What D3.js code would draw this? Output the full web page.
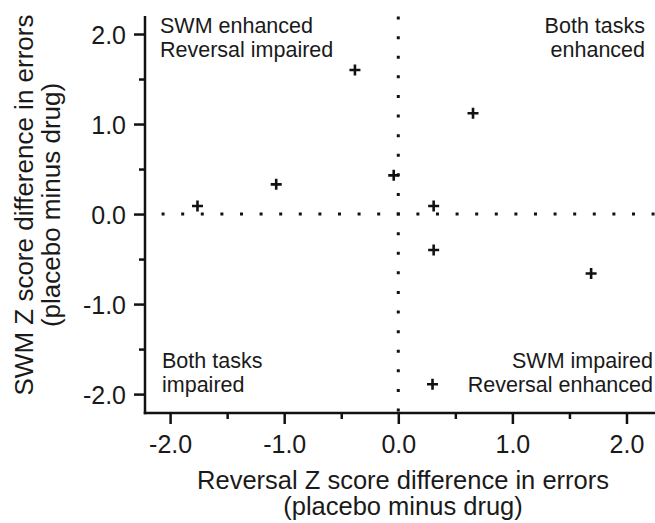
<!DOCTYPE html>
<html>
<head>
<meta charset="utf-8">
<script src="https://cdn.jsdelivr.net/npm/d3@7"></script>
<style>
  body { margin: 0; background: #fff; }
  text { font-family: "Liberation Sans", Arial, sans-serif; fill: #1a1a1a; }
</style>
</head>
<body>
<svg id="chart" width="655" height="523"></svg>
<script>
// reversal (x) and SWM (y) z score differences, one entry per subject
const reversalZ = [-1.76, -1.07, -0.38, -0.04, 0.31, 0.31, 0.30, 0.655, 1.69];
const swmZ      = [0.09, 0.33, 1.60, 0.43, 0.09, -0.40, -1.89, 1.12, -0.66];
const majorTicks = [-2, -1, 0, 1, 2];
const minorTicks = [-1.5, -0.5, 0.5, 1.5];
const quadrantLabels = [
  { lines: ['SWM enhanced', 'Reversal impaired'], corner: 'tl' },
  { lines: ['Both tasks', 'enhanced'], corner: 'tr' },
  { lines: ['Both tasks', 'impaired'], corner: 'bl' },
  { lines: ['SWM impaired', 'Reversal enhanced'], corner: 'br' }
];

const svg = d3.select('#chart');
const plotLeft = 145, plotRight = 655, plotTop = 16, plotBottom = 413;

const x = d3.scaleLinear().domain([-2.22, 2.25]).range([plotLeft, plotRight]);
const y = d3.scaleLinear().domain([-2.21, 2.2]).range([plotBottom, plotTop]);
const fmt = d => d3.format('.1f')(d).replace('\u2212', '-');

// dotted zero lines, drawn out from the origin so a dot sits on it
const dots = svg.append('g')
  .attr('stroke', '#111')
  .attr('stroke-width', 3)
  .attr('stroke-dasharray', '3 16.6')
  .attr('stroke-dashoffset', 1.5);
[[x(0), plotLeft], [x(0), plotRight]].forEach(function(p) {
  dots.append('line').attr('x1', p[0]).attr('x2', p[1]).attr('y1', y(0)).attr('y2', y(0));
});
[[y(0), plotTop], [y(0), plotBottom]].forEach(function(p) {
  dots.append('line').attr('x1', x(0)).attr('x2', x(0)).attr('y1', p[0]).attr('y2', p[1]);
});

// axes
const xAxis = svg.append('g').attr('transform', 'translate(0,' + plotBottom + ')');
xAxis.call(d3.axisBottom(x).tickValues(minorTicks).tickSize(6).tickFormat(''));
xAxis.call(g => g.append('g').call(d3.axisBottom(x).tickValues(majorTicks).tickSize(11).tickFormat(fmt)));

const yAxis = svg.append('g').attr('transform', 'translate(' + plotLeft + ',0)');
yAxis.call(d3.axisLeft(y).tickValues(minorTicks).tickSize(6).tickFormat(''));
yAxis.call(g => g.append('g').call(d3.axisLeft(y).tickValues(majorTicks).tickSize(11).tickFormat(fmt)));

svg.selectAll('.domain').remove();
svg.selectAll('.tick line').attr('stroke', '#111').attr('stroke-width', 2.5);
svg.selectAll('.tick text')
  .style('font-family', '"Liberation Sans", Arial, sans-serif')
  .style('font-size', '25px')
  .attr('fill', '#1a1a1a');
xAxis.selectAll('.tick text').attr('dy', null).attr('y', 40);
yAxis.selectAll('.tick text').attr('x', -19).attr('dy', '0.36em');

// axis lines
svg.append('line').attr('x1', plotLeft).attr('x2', plotLeft).attr('y1', plotTop).attr('y2', plotBottom + 1.25)
  .attr('stroke', '#111').attr('stroke-width', 2.5);
svg.append('line').attr('x1', plotLeft - 1.25).attr('x2', plotRight).attr('y1', plotBottom).attr('y2', plotBottom)
  .attr('stroke', '#111').attr('stroke-width', 2.5);

// points as plus markers
svg.append('g').selectAll('path')
  .data(reversalZ.map((v, i) => [v, swmZ[i]]))
  .join('path')
  .attr('transform', d => 'translate(' + x(d[0]) + ',' + y(d[1]) + ')')
  .attr('d', 'M-5.5,0H5.5M0,-5.5V5.5')
  .attr('stroke', '#111')
  .attr('stroke-width', 2.6);

// quadrant annotations
const corners = {
  tl: { x: 160, y: 33, anchor: 'start' },
  tr: { x: 645, y: 33, anchor: 'end' },
  bl: { x: 162, y: 368, anchor: 'start' },
  br: { x: 653, y: 368, anchor: 'end' }
};
quadrantLabels.forEach(function(q) {
  const c = corners[q.corner];
  const t = svg.append('text')
    .attr('x', c.x).attr('y', c.y)
    .attr('text-anchor', c.anchor)
    .style('font-size', '21.5px');
  q.lines.forEach(function(line, i) {
    t.append('tspan').attr('x', c.x).attr('dy', i === 0 ? 0 : 23.5).text(line);
  });
});

// axis titles
const xTitle = svg.append('text')
  .attr('x', 403).attr('y', 489)
  .attr('text-anchor', 'middle')
  .style('font-size', '25.5px');
xTitle.append('tspan').attr('x', 403).text('Reversal Z score difference in errors');
xTitle.append('tspan').attr('x', 403).attr('dy', 26).text('(placebo minus drug)');

const yTitle = svg.append('text')
  .attr('transform', 'translate(33,205) rotate(-90)')
  .attr('text-anchor', 'middle')
  .style('font-size', '26px');
yTitle.append('tspan').attr('x', 0).text('SWM Z score difference in errors');
yTitle.append('tspan').attr('x', 0).attr('dy', 27).text('(placebo minus drug)');
</script>
</body>
</html>
